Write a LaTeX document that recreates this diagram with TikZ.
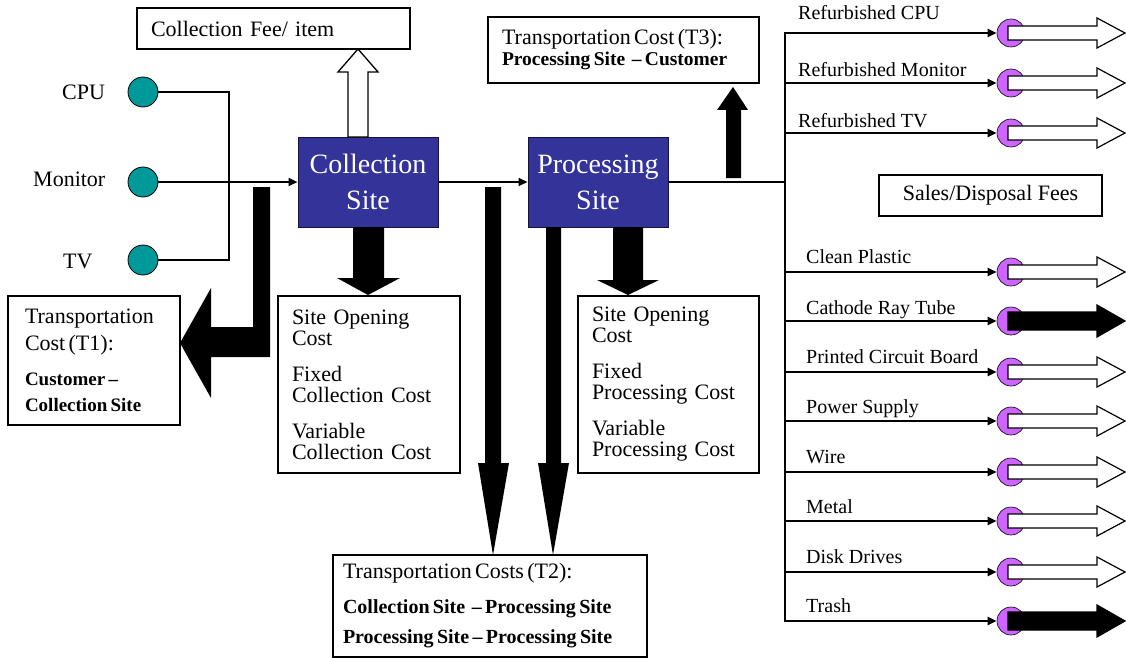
\documentclass[tikz,border=0pt]{standalone}
\usepackage{fontspec}
\setmainfont{Liberation Serif}
\usetikzlibrary{arrows.meta}
\definecolor{teal1}{RGB}{0,153,153}
\definecolor{siteblue}{RGB}{51,51,153}
\definecolor{violet1}{RGB}{204,102,255}
\begin{document}
\begin{tikzpicture}[x=1pt,y=-1pt,
  txtbox/.style={draw, line width=1.3pt, fill=white, align=left, inner ysep=0pt},
  site/.style={draw=black!60!siteblue, line width=1pt, fill=siteblue, text=white, align=center,
    minimum width=140pt, minimum height=90pt, font=\fontsize{28}{36}\selectfont, inner sep=0pt},
  dot/.style={circle, draw, line width=0.8pt, fill=teal1, minimum size=30pt, inner sep=0pt},
  pdot/.style={circle, draw, line width=0.6pt, fill=violet1, minimum size=28pt, inner sep=0pt},
  wire/.style={line width=2pt},
  tipped/.style={-{Triangle[length=9pt,width=8pt]}},
  hollow/.style={draw, line width=1.3pt, fill=white},
  lbl/.style={anchor=base west, inner sep=0pt, font=\fontsize{22}{22}\selectfont},
  rlbl/.style={anchor=base west, inner sep=0pt, font=\fontsize{20}{20}\selectfont},
]
\useasboundingbox (0,0) rectangle (1126,658);

% text boxes
\node[txtbox, inner xsep=14pt, text width=245pt, minimum height=41pt, font=\fontsize{22}{22}\selectfont] (fee) at (273.5,28.5) {Collection Fee/ item};
\node[txtbox, inner xsep=14pt, text width=243pt, minimum height=66pt] (t3) at (623.5,50)
  {\fontsize{22}{21}\selectfont Transportation Cost (T3):\par\fontsize{19.5}{21}\selectfont\bfseries Processing Site ~– Customer\par};
\node[txtbox, inner xsep=17pt, text width=138pt, minimum height=129pt] (t1) at (94,360.5)
  {\fontsize{22}{27}\selectfont Transportation\\Cost (T1):\par\vspace{9pt}\fontsize{19}{26}\selectfont\bfseries Customer –\\Collection Site\par};
\node[txtbox, inner xsep=14pt, text width=154pt, minimum height=177pt, font=\fontsize{22}{21}\selectfont] (cc) at (369,384.5)
  {Site Opening\\Cost\\[15pt]Fixed\\Collection Cost\\[15pt]Variable\\Collection Cost};
\node[txtbox, inner xsep=14pt, text width=153pt, minimum height=177pt, font=\fontsize{22}{21}\selectfont] (pc) at (668.5,384.5)
  {Site Opening\\Cost\\[15pt]Fixed\\Processing Cost\\[15pt]Variable\\Processing Cost};
\node[txtbox, inner xsep=10pt, text width=294pt, minimum height=102pt] (t2) at (490,606)
  {\fontsize{22}{22}\selectfont Transportation Costs (T2):\par\vspace{5pt}\fontsize{20}{30}\selectfont\bfseries Collection Site ~– Processing Site\\Processing Site – Processing Site\par};
\node[txtbox, align=center, inner xsep=0pt, minimum width=223pt, minimum height=41pt, font=\fontsize{22}{22}\selectfont] (sales) at (990.5,195.5) {Sales/Disposal Fees};

% sites
\node[site] (cs) at (368,182) {Collection\\Site};
\node[site] (ps) at (598,182) {Processing\\Site};

% inputs
\node[dot] (cpu) at (143,92) {};
\node[dot] (mon) at (143,182) {};
\node[dot] (tv) at (143,260) {};
\node[lbl] (cpul) at (62,100) {CPU};
\node[lbl] (monl) at (33,186) {Monitor};
\node[lbl] (tvl) at (63,268) {TV};
\coordinate (jn) at (229,260);
\draw[wire] (cpu.east) -| (jn) -- (tv.east);
\draw[wire, line width=2.5pt, tipped] (mon.east) -- (cs.west);
\draw[wire, tipped] (cs.east) -- (ps.west);

% bus
\coordinate (busmid) at (785,182);
\coordinate (bustop) at (785,33);
\coordinate (busbot) at (785,621);
\draw[wire] (ps.east) -- (busmid);
\draw[line width=2.5pt, line cap=rect] (bustop) -- (busbot);

% block arrows
\path[hollow] (348,137) -- (348,72) -- (338,72) -- (358,49) -- (378,72) -- (368,72) -- (368,137) -- cycle;
\fill (353,227) -- (353,278) -- (337,278) -- (368,295) -- (400,278) -- (384,278) -- (384,227) -- cycle;
\fill (613,227) -- (613,280) -- (597,280) -- (628,295) -- (659,280) -- (643,280) -- (643,227) -- cycle;
\fill (253,187) -- (270,187) -- (270,357) -- (211,357) -- (211,398) -- (180,343) -- (211,288) -- (211,327) -- (253,327) -- cycle;
\fill (485,187) -- (485,463) -- (478,463) -- (493,555) -- (509,463) -- (501,463) -- (501,187) -- cycle;
\fill (546,227) -- (546,463) -- (538,463) -- (553,555) -- (569,463) -- (561,463) -- (561,227) -- cycle;
\fill (726,178) -- (726,110) -- (717,110) -- (733,87) -- (748,110) -- (741,110) -- (741,178) -- cycle;

% outputs
\foreach \i/\y/\lx/\ly/\lab/\col/\s/\h in {
  1/33/798/20/Refurbished CPU/white/7/15,
  2/83/798/77/Refurbished Monitor/white/7/15,
  3/133/798/128/Refurbished TV/white/7/15,
  4/272/806/263/Clean Plastic/white/7/15,
  5/321/806/314/Cathode Ray Tube/black/9/16,
  6/372/806/363/Printed Circuit Board/white/7/15,
  7/421/806/413/Power Supply/white/7/15,
  8/472/806/463/Wire/white/7/15,
  9/521/806/513/Metal/white/7/15,
  10/572/806/563/Disk Drives/white/7/15,
  11/621/806/612/Trash/black/9/16}{
  \node[pdot] (pd\i) at (1011,\y) {};
  \coordinate (br\i) at (785,\y);
  \draw[wire, line width=2.3pt, tipped] (br\i) -- (pd\i.west);
  \draw[line width=1.2pt, fill=\col] (1008,\y-\s) -- (1097,\y-\s) -- (1097,\y-\h) -- (1125,\y) -- (1097,\y+\h) -- (1097,\y+\s) -- (1008,\y+\s) -- cycle;
  \node[rlbl] (rl\i) at (\lx,\ly) {\lab};
}
\end{tikzpicture}
\end{document}
